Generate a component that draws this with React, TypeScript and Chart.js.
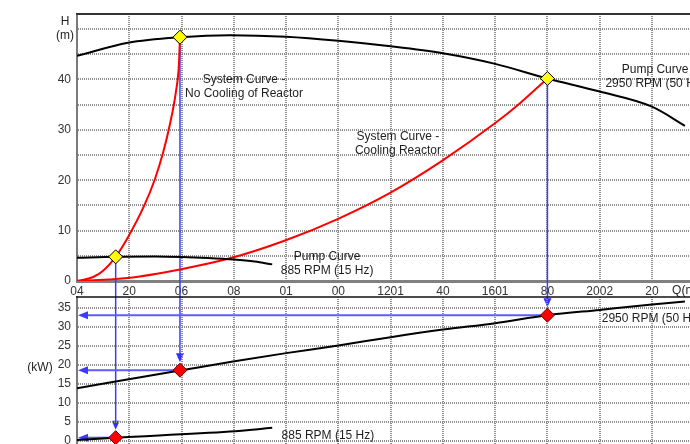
import React, { useEffect, useRef } from 'react';
import { Chart, registerables } from 'chart.js';

Chart.register(...registerables);

const FONT = '"Liberation Sans", Arial, Helvetica, sans-serif';

// ---- axis ticks ----
const qTickLabels = ['04', '20', '06', '08', '01', '00', '1201', '40', '1601', '80', '2002', '20'];
const qStep = 20;
const qMin = 0;
const qMax = 234.55;
const hMin = 0;
const hMax = 53;
const pMin = -0.87;
const pMax = 37.9;

// ---- head curves (top panel) ----
const pump2950Q = [0, 19.5, 39.4, 58.5, 80, 100, 120, 140, 160, 180, 200, 220, 232.6];
const pump2950H = [44.7, 47.3, 48.4, 48.8, 48.5, 47.7, 46.6, 45.2, 43.1, 40.2, 37.6, 34.6, 30.8];

const pump885Q = [0, 14.8, 30, 40, 50, 60, 68, 74.7];
const pump885H = [4.6, 4.8, 4.85, 4.75, 4.55, 4.25, 3.85, 3.3];

const sysNoCoolQ = [0, 6.2, 10.1, 14.8, 19.4, 25.4, 29.8, 33.0, 35.6, 37.8, 39.0, 39.4];
const sysNoCoolH = [0, 0.8, 2.1, 4.8, 8.6, 14.6, 20.2, 25.6, 31.2, 37.4, 43.0, 48.4];

const sysCoolQ = [0, 19.4, 39.4, 58.5, 79.9, 99.7, 119.8, 139.8, 159.9, 169.5, 180];
const sysCoolH = [0, 0.6, 2.3, 4.5, 8.1, 12.3, 17.5, 23.9, 31.3, 35.3, 40.2];

// ---- power curves (bottom panel) ----
const power2950Q = [0, 39.4, 59.7, 80, 100, 120, 140, 160, 180, 200, 220, 232.6];
const power2950P = [13.85, 18.5, 20.9, 23.1, 25.1, 27.3, 29.3, 31.0, 33.1, 34.5, 35.9, 36.7];

const power885Q = [0, 14.8, 58.5, 74.7];
const power885P = [0.2, 0.8, 2.4, 3.4];

// ---- operating points ----
const opQ = [14.8, 39.4, 180];
const opH = [4.8, 48.4, 40.2];
const opP = [0.8, 18.6, 33.1];

// ---- text notes (anchored in data coordinates) ----
const topNotes = [
  { lines: ['System Curve -', 'No Cooling of Reactor'], q: 63.9, v: 39.9 },
  { lines: ['System Curve -', 'Cooling Reactor'], q: 122.8, v: 28.6 },
  { lines: ['Pump Curve', '2950 RPM (50 Hz)'], q: 221.2, v: 42.0 },
  { lines: ['Pump Curve', '885 RPM (15 Hz)'], q: 95.7, v: 4.9 },
];
const bottomNotes = [
  { lines: ['2950 RPM (50 Hz)'], q: 219.8, v: 32.1 },
  { lines: ['885 RPM (15 Hz)'], q: 96.0, v: 1.32 },
];

const pts = (qs: number[], vs: number[]) => qs.map((q, i) => ({ x: q, y: vs[i] }));

function drawLines(ctx: CanvasRenderingContext2D, lines: string[], cx: number, cy: number, align: CanvasTextAlign = 'center') {
  ctx.save();
  ctx.font = `12px ${FONT}`;
  ctx.fillStyle = '#1e1e1e';
  ctx.textAlign = align;
  ctx.textBaseline = 'middle';
  lines.forEach((l, i) => ctx.fillText(l, cx, cy + i * 14));
  ctx.restore();
}

function drawTopBorder(chart: any, color: string, width: number) {
  const { ctx, chartArea } = chart;
  ctx.save();
  ctx.strokeStyle = color;
  ctx.lineWidth = width;
  ctx.beginPath();
  ctx.moveTo(chartArea.left - 1, chartArea.top);
  ctx.lineTo(chartArea.right, chartArea.top);
  ctx.stroke();
  ctx.restore();
}

export default function App() {
  const topRef = useRef<HTMLCanvasElement>(null);
  const botRef = useRef<HTMLCanvasElement>(null);

  useEffect(() => {
    const lineDs = (qs: number[], vs: number[], color: string) => ({
      data: pts(qs, vs),
      borderColor: color,
      borderWidth: 2,
      pointRadius: 0,
      cubicInterpolationMode: 'monotone',
      fill: false,
    });

    const grid = { color: '#8e8e8e', lineWidth: 2, drawTicks: false };
    const tickFont = { family: FONT, size: 12 };

    const xScale = (showTicks: boolean) => ({
      type: 'linear',
      min: qMin,
      max: qMax,
      grid,
      border: { display: showTicks, color: '#808080', width: 3, dash: [1, 1] },
      ticks: {
        display: showTicks,
        stepSize: qStep,
        includeBounds: false,
        autoSkip: false,
        maxRotation: 0,
        padding: 3,
        color: '#333',
        font: tickFont,
        callback: (v: number) => qTickLabels[Math.round(v / qStep)] ?? '',
      },
      afterFit: (s: any) => {
        s.height = showTicks ? 16 : 0;
        s.paddingLeft = 0;
        s.paddingRight = 0;
      },
    });

    const yScale = (min: number, max: number, cb: (v: number) => string) => ({
      type: 'linear',
      min,
      max,
      grid,
      border: { display: true, color: '#7a7a7a', width: 2, dash: [1, 1] },
      ticks: {
        stepSize: 5,
        includeBounds: false,
        padding: 6,
        color: '#333',
        font: tickFont,
        callback: cb,
      },
      afterFit: (s: any) => {
        s.width = 77;
        s.paddingTop = 0;
        s.paddingBottom = 0;
      },
    });

    const common = {
      responsive: false,
      animation: false,
      events: [],
      plugins: { legend: { display: false }, tooltip: { enabled: false } },
    };

    // ---------- bottom chart (power) ----------
    const bottomPlugin = {
      id: 'bottomDecor',
      beforeDatasetsDraw(chart: any) {
        const { ctx, chartArea, scales } = chart;
        ctx.save();
        ctx.strokeStyle = '#5c5cff';
        ctx.fillStyle = '#3c3cff';
        ctx.lineWidth = 2;
        opQ.forEach((q, i) => {
          const px = scales.x.getPixelForValue(q);
          const py = scales.y.getPixelForValue(opP[i]);
          const tip = chartArea.left + 1;
          ctx.beginPath();
          ctx.moveTo(px, py);
          ctx.lineTo(tip + 8, py);
          ctx.stroke();
          ctx.beginPath();
          ctx.moveTo(tip, py);
          ctx.lineTo(tip + 10, py - 4);
          ctx.lineTo(tip + 10, py + 4);
          ctx.closePath();
          ctx.fill();
        });
        ctx.restore();
      },
      afterDraw(chart: any) {
        const { ctx, scales } = chart;
        drawTopBorder(chart, '#111', 1.5);
        bottomNotes.forEach((n) => {
          drawLines(ctx, n.lines, scales.x.getPixelForValue(n.q), scales.y.getPixelForValue(n.v));
        });
        drawLines(ctx, ['(kW)'], 40, scales.y.getPixelForValue(19.2));
      },
    };

    const bottom = new Chart(botRef.current as HTMLCanvasElement, {
      type: 'line',
      data: {
        datasets: [
          {
            data: pts(opQ, opP),
            showLine: false,
            pointStyle: 'rectRot',
            pointRadius: 7,
            pointBackgroundColor: '#ff0000',
            pointBorderColor: '#600000',
            pointBorderWidth: 1,
            clip: false,
          },
          lineDs(power2950Q, power2950P, '#000'),
          lineDs(power885Q, power885P, '#000'),
        ],
      },
      options: {
        ...common,
        layout: { autoPadding: false, padding: { top: 297, left: 0, right: 0, bottom: 0 } },
        scales: {
          x: xScale(false),
          y: yScale(pMin, pMax, (v: number) => (v >= 0 ? String(v) : '')),
        },
      },
      plugins: [bottomPlugin],
    } as any);

    // ---------- top chart (head) ----------
    const topPlugin = {
      id: 'topDecor',
      beforeDatasetsDraw(chart: any) {
        const { ctx, scales } = chart;
        ctx.save();
        ctx.strokeStyle = '#3c3cff';
        ctx.fillStyle = '#3030ff';
        ctx.lineWidth = 1.5;
        opQ.forEach((q, i) => {
          const px = scales.x.getPixelForValue(q);
          const y1 = scales.y.getPixelForValue(opH[i]);
          const tip = bottom.scales.y.getPixelForValue(opP[i]) - 8;
          ctx.beginPath();
          ctx.moveTo(px, y1);
          ctx.lineTo(px, tip - 7);
          ctx.stroke();
          ctx.beginPath();
          ctx.moveTo(px, tip);
          ctx.lineTo(px - 4, tip - 9);
          ctx.lineTo(px + 4, tip - 9);
          ctx.closePath();
          ctx.fill();
        });
        ctx.restore();
      },
      afterDraw(chart: any) {
        const { ctx, scales, chartArea } = chart;
        drawTopBorder(chart, '#333', 2);
        topNotes.forEach((n) => {
          drawLines(ctx, n.lines, scales.x.getPixelForValue(n.q), scales.y.getPixelForValue(n.v));
        });
        const y50 = scales.y.getPixelForValue(50);
        drawLines(ctx, ['H', '(m)'], chartArea.left - 12, y50 - 7);
        drawLines(ctx, ['Q(m³/h)'], scales.x.getPixelForValue(227.7), chartArea.bottom + 10, 'left');
      },
    };

    const top = new Chart(topRef.current as HTMLCanvasElement, {
      type: 'line',
      data: {
        datasets: [
          {
            data: pts(opQ, opH),
            showLine: false,
            pointStyle: 'rectRot',
            pointRadius: 7,
            pointBackgroundColor: '#ffff00',
            pointBorderColor: '#000',
            pointBorderWidth: 1,
            clip: false,
          },
          lineDs(pump2950Q, pump2950H, '#000'),
          lineDs(pump885Q, pump885H, '#000'),
          lineDs(sysNoCoolQ, sysNoCoolH, '#ff0000'),
          lineDs(sysCoolQ, sysCoolH, '#ff0000'),
        ],
      },
      options: {
        ...common,
        layout: { autoPadding: false, padding: { top: 14, left: 0, right: 0, bottom: 147 } },
        scales: {
          x: xScale(true),
          y: yScale(hMin, hMax, (v: number) => (v % 10 === 0 && v < 50 ? String(v) : '')),
        },
      },
      plugins: [topPlugin],
    } as any);

    return () => {
      top.destroy();
      bottom.destroy();
    };
  }, []);

  const cStyle: React.CSSProperties = { position: 'absolute', left: 0, top: 0 };
  return (
    <div style={{ position: 'fixed', left: 0, top: 0, width: 690, height: 444, overflow: 'hidden', background: '#fff' }}>
      <canvas ref={topRef} width={690} height={444} style={cStyle} />
      <canvas ref={botRef} width={690} height={444} style={cStyle} />
    </div>
  );
}
